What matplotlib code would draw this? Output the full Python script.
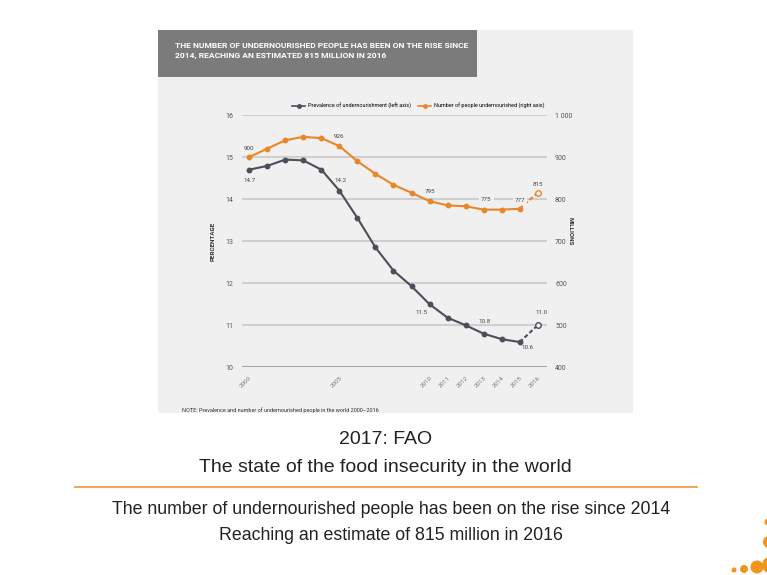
import matplotlib
matplotlib.use("Agg")
import matplotlib.pyplot as plt
from matplotlib.patches import Rectangle, Ellipse
from matplotlib.lines import Line2D

years = list(range(2000, 2017))
prevalence = [14.7, 14.79, 14.94, 14.92, 14.70, 14.2, 13.55, 12.85, 12.3, 11.93,
              11.5, 11.18, 11.0, 10.8, 10.67, 10.6, 11.0]
number_millions = [900, 920, 940, 948, 945, 926, 890, 860, 834, 815,
                   795, 785, 783, 775, 775, 777, 815]
xtick_years = [2000, 2005, 2010, 2011, 2012, 2013, 2014, 2015, 2016]
left_ticks = [10, 11, 12, 13, 14, 15, 16]
right_ticks = [400, 500, 600, 700, 800, 900, 1000]
right_tick_labels = ["400", "500", "600", "700", "800", "900", "1 000"]

GRAY_LINE = "#4b4f59"
ORANGE = "#e8862a"
W, H = 767, 575
NARROW = ["Roboto", "DejaVu Sans"]

fig = plt.figure(figsize=(W / 100, H / 100), dpi=100)
fig.patch.set_facecolor("white")

def fx(px):
    return px / W

def fy(py):
    return 1 - py / H

# chart panel background
fig.patches.append(Rectangle((fx(158), fy(413)), fx(633) - fx(158), fy(30) - fy(413),
                             transform=fig.transFigure, facecolor="#f0f0f0",
                             edgecolor="none", zorder=-5))
# title box
fig.patches.append(Rectangle((fx(158), fy(77)), fx(477) - fx(158), fy(30) - fy(77),
                             transform=fig.transFigure, facecolor="#7b7b7b",
                             edgecolor="none", zorder=-4))
fig.text(fx(175), fy(50.5), "THE NUMBER OF UNDERNOURISHED PEOPLE HAS BEEN ON THE RISE SINCE\n"
         "2014, REACHING AN ESTIMATED 815 MILLION IN 2016",
         color="white", fontsize=6.1, fontweight="bold", va="center", ha="left",
         linespacing=1.35, family=NARROW)

ax = fig.add_axes([fx(241.7), fy(367.3), fx(546.7) - fx(241.7), fy(115) - fy(367.3)])
ax.set_facecolor("none")
ax2 = ax.twinx()
ax2.set_facecolor("none")

ax.set_xlim(1999.58, 2016.5)
ax.set_ylim(10, 16)
ax2.set_ylim(400, 1000)

for a in (ax, ax2):
    for s in a.spines.values():
        s.set_visible(False)

# gridlines
for v in left_ticks:
    ax.axhline(v, color="#8a8a8a" if v == 10 else "#cfcfcf", lw=1.8 if v == 10 else 1.5, zorder=0)

ax.set_yticks(left_ticks)
ax.set_yticklabels([str(v) for v in left_ticks], family=NARROW)
ax2.set_yticks(right_ticks)
ax2.set_yticklabels(right_tick_labels, family=NARROW)
ax.tick_params(axis="y", length=0, labelsize=5, labelcolor="#555555", pad=6)
ax2.tick_params(axis="y", length=0, labelsize=5, labelcolor="#555555", pad=6)
ax.set_xticks(xtick_years)
ax.set_xticklabels([str(y) for y in xtick_years], rotation=45, ha="right",
                   rotation_mode="anchor", family=NARROW)
ax.tick_params(axis="x", length=0, labelsize=4.5, labelcolor="#777777", pad=6)

# lines: solid up to 2015, dashed to 2016 with open marker
ax.plot(years[:-1], prevalence[:-1], color=GRAY_LINE, lw=1.5, marker="o", ms=3.2, zorder=3)
ax.plot(years[-2:], prevalence[-2:], color=GRAY_LINE, lw=1.5, ls=(0, (2, 1.2)), zorder=3)
ax.plot(years[-1:], prevalence[-1:], color=GRAY_LINE, lw=0.8, marker="o", ms=4,
        mfc="#f0f0f0", zorder=4)
ax2.plot(years[:-1], number_millions[:-1], color=ORANGE, lw=1.5, marker="o", ms=3.2, zorder=3)
ax2.plot(years[-2:], number_millions[-2:], color=ORANGE, lw=1.5, ls=(0, (2, 1.2)), zorder=3)
ax2.plot(years[-1:], number_millions[-1:], color=ORANGE, lw=0.8, marker="o", ms=4,
         mfc="#f0f0f0", zorder=4)

lab_kw = dict(fontsize=4.5, color="#444444", family=NARROW)
# prevalence labels
ax.annotate("14.7", (years[0], prevalence[0]), xytext=(0, -8), textcoords="offset points",
            ha="center", va="center", **lab_kw)
ax.annotate("14.2", (years[5], prevalence[5]), xytext=(1, 7), textcoords="offset points",
            ha="center", va="center", **lab_kw)
ax.annotate("11.5", (years[10], prevalence[10]), xytext=(-6, -6), textcoords="offset points",
            ha="center", va="center", **lab_kw)
ax.annotate("10.8", (years[13], prevalence[13]), xytext=(1, 9), textcoords="offset points",
            ha="center", va="center", **lab_kw)
ax.annotate("10.6", (years[15], prevalence[15]), xytext=(6, -4), textcoords="offset points",
            ha="center", va="center", **lab_kw)
ax.annotate("11.0", (years[16], prevalence[16]), xytext=(3, 9), textcoords="offset points",
            ha="center", va="center", **lab_kw)
# number labels
ax2.annotate("900", (years[0], number_millions[0]), xytext=(0, 6), textcoords="offset points",
             ha="center", va="center", **lab_kw)
ax2.annotate("926", (years[5], number_millions[5]), xytext=(0, 7), textcoords="offset points",
             ha="center", va="center", **lab_kw)
ax2.annotate("795", (years[10], number_millions[10]), xytext=(0, 7), textcoords="offset points",
             ha="center", va="center", **lab_kw)
ax2.annotate("775", (years[13], number_millions[13]), xytext=(2, 7.5), textcoords="offset points",
             ha="center", va="center",
             bbox=dict(boxstyle="square,pad=0.3", fc="#f0f0f0", ec="none"), **lab_kw)
ax2.annotate("777", (years[15], number_millions[15]), xytext=(0, 6), textcoords="offset points",
             ha="center", va="center",
             bbox=dict(boxstyle="square,pad=0.3", fc="#f0f0f0", ec="none"), **lab_kw)
ax2.annotate("815", (years[16], number_millions[16]), xytext=(0, 6), textcoords="offset points",
             ha="center", va="center", **lab_kw)

ax.set_ylabel("PERCENTAGE", fontsize=4.5, fontweight="bold", color="#333333", family=NARROW)
ax.yaxis.set_label_coords(-0.085, 0.5)
ax2.set_ylabel("MILLIONS", fontsize=4.5, fontweight="bold", color="#333333", rotation=-90,
               family=NARROW)
ax2.yaxis.set_label_coords(1.086, 0.54)

handles = [Line2D([], [], color=GRAY_LINE, marker="o", ms=2.5, lw=1.2),
           Line2D([], [], color=ORANGE, marker="o", ms=2.5, lw=1.2)]
ax.legend(handles, ["Prevalence of undernourishment (left axis)",
                    "Number of people undernourished (right axis)"],
          loc="lower right", bbox_to_anchor=(1.0, 1.015), ncol=2, frameon=False,
          handlelength=2.4, handletextpad=0.5, columnspacing=1.2, borderaxespad=0,
          prop={"family": NARROW, "size": 4.0})

fig.text(fx(182), fy(410), "NOTE: Prevalence and number of undernourished people in the world 2000\u20132016",
         fontsize=4, color="#333333", va="center", ha="left", family=NARROW)

# slide texts
sf = ["Liberation Sans", "DejaVu Sans"]
fig.text(0.503, fy(440), "2017: FAO", fontsize=14, ha="center", va="center", family=sf, color="#222222")
fig.text(0.503, fy(467), "The state of the food insecurity in the world", fontsize=14,
         ha="center", va="center", family=sf, color="#222222")
fig.add_artist(Line2D([fx(75), fx(697)], [fy(487), fy(487)], color="#f0a860", lw=1.5))
fig.text(0.51, fy(509), "The number of undernourished people has been on the rise since 2014",
         fontsize=12.8, ha="center", va="center", family=sf, color="#222222")
fig.text(0.51, fy(536), "Reaching an estimate of 815 million in 2016",
         fontsize=12.8, ha="center", va="center", family=sf, color="#222222")

# decorative orange dots (slide template) in the bottom-right corner
for cx, cy, r in [(734, 570, 2.5), (744, 569, 4.0), (757, 567, 6.5), (770, 565, 8),
                  (769, 542, 6), (768, 522, 3.5)]:
    fig.patches.append(Ellipse((fx(cx), fy(cy)), 2 * r / W, 2 * r / H,
                               transform=fig.transFigure, facecolor="#f0961e",
                               edgecolor="none", zorder=-3))

fig.savefig("out.png", dpi=100)
